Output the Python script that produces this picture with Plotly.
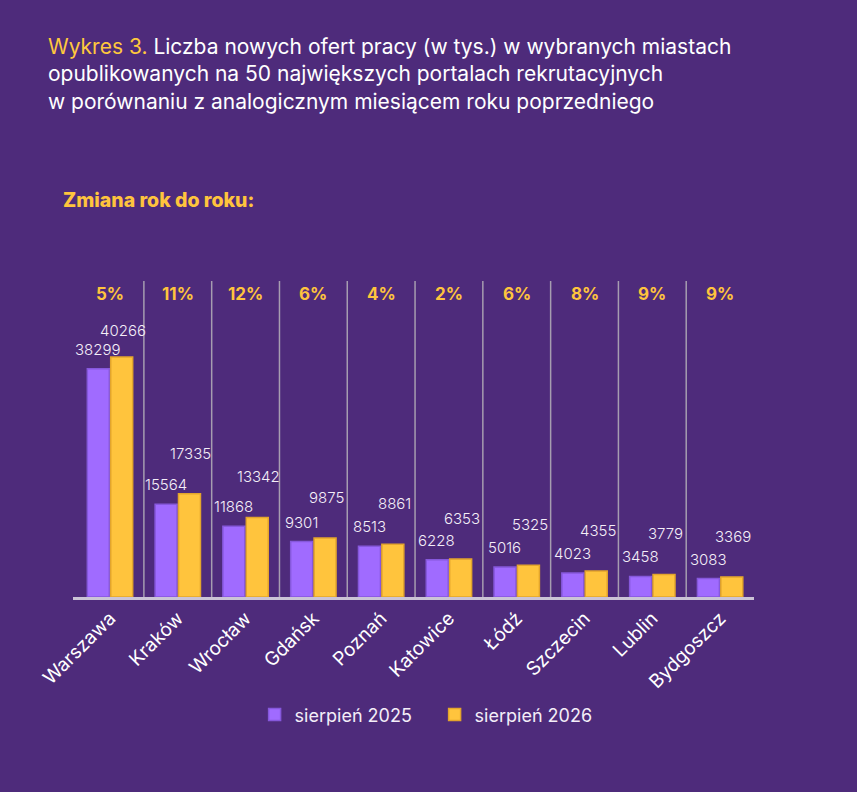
import plotly.graph_objects as go

cities = ["Warszawa", "Kraków", "Wrocław", "Gdańsk", "Poznań",
          "Katowice", "Łódź", "Szczecin", "Lublin", "Bydgoszcz"]
aug_2025 = [38299, 15564, 11868, 9301, 8513, 6228, 5016, 4023, 3458, 3083]
aug_2026 = [40266, 17335, 13342, 9875, 8861, 6353, 5325, 4355, 3779, 3369]
yoy = ["5%", "11%", "12%", "6%", "4%", "2%", "6%", "8%", "9%", "9%"]

BG = "#4e2b7b"
PURPLE = "#a06bff"
YELLOW = "#ffc43d"
FONT = "Inter"

fig = go.Figure()
fig.add_trace(go.Bar(x=cities, y=aug_2025, name="sierpień 2025",
                     marker=dict(color=PURPLE, line=dict(color="#8658dc", width=1.5))))
fig.add_trace(go.Bar(x=cities, y=aug_2026, name="sierpień 2026",
                     marker=dict(color=YELLOW, line=dict(color="#e3a52c", width=1.5))))

# value labels above the bars
for c, v1, v2 in zip(cities, aug_2025, aug_2026):
    fig.add_annotation(x=c, y=v1, text=str(v1), showarrow=False, xshift=-12,
                       yanchor="bottom", yshift=8,
                       font=dict(family=FONT, size=15, weight=300, color="#f4eef8"))
    fig.add_annotation(x=c, y=v2, text=str(v2), showarrow=False, xshift=13,
                       yanchor="bottom", yshift=29 if v2 < 30000 else 15,
                       font=dict(family=FONT, size=15, weight=300, color="#f4eef8"))

# year-over-year change
for c, p in zip(cities, yoy):
    fig.add_annotation(x=c, y=0.959, yref="paper", yanchor="middle", text="<b>%s</b>" % p,
                       showarrow=False, font=dict(family=FONT, size=17, color=YELLOW))

# separators between cities
for i in range(len(cities) - 1):
    fig.add_shape(type="line", x0=i + 0.5, x1=i + 0.5, y0=0, y1=1,
                  xref="x", yref="paper", line=dict(color="#a69db0", width=1.5))

fig.add_annotation(x=-0.039, y=1.788, xref="paper", yref="paper",
                   xanchor="left", yanchor="top", align="left", showarrow=False,
                   text="<span style='color:#ffc83d'>Wykres 3.</span> Liczba nowych ofert pracy (w tys.) w wybranych miastach"
                        "<br>opublikowanych na 50 największych portalach rekrutacyjnych"
                        "<br>w porównaniu z analogicznym miesiącem roku poprzedniego",
                   font=dict(family=FONT, size=21, color="white"))
fig.add_annotation(x=-0.017, y=1.256, xref="paper", yref="paper",
                   xanchor="left", yanchor="middle", showarrow=False,
                   text="Zmiana rok do roku:",
                   font=dict(family=FONT, size=19.5, weight=800, color=YELLOW))

fig.update_layout(
    width=857, height=792,
    paper_bgcolor=BG, plot_bgcolor=BG,
    margin=dict(l=73, r=103, t=281, b=195),
    barmode="group", bargap=0.31, bargroupgap=0.06,
    font=dict(family=FONT, color="white"),
    showlegend=True,
    legend=dict(orientation="h", x=0.531, xanchor="center", y=-0.373, yanchor="middle",
                itemwidth=30, entrywidth=135,
                font=dict(family=FONT, size=18, color="#f4eef8"), bgcolor="rgba(0,0,0,0)"),
)
fig.update_xaxes(showgrid=False, tickangle=-45, ticks="", showline=True,
                 linecolor="#cbc4d6", linewidth=2.5,
                 tickfont=dict(family=FONT, size=19, color="white"))
fig.update_yaxes(range=[0, 53000], visible=False, showgrid=False, zeroline=False)

fig.write_html("out.html", config={"displayModeBar": False},
               post_script="document.body.style.margin='0';")
